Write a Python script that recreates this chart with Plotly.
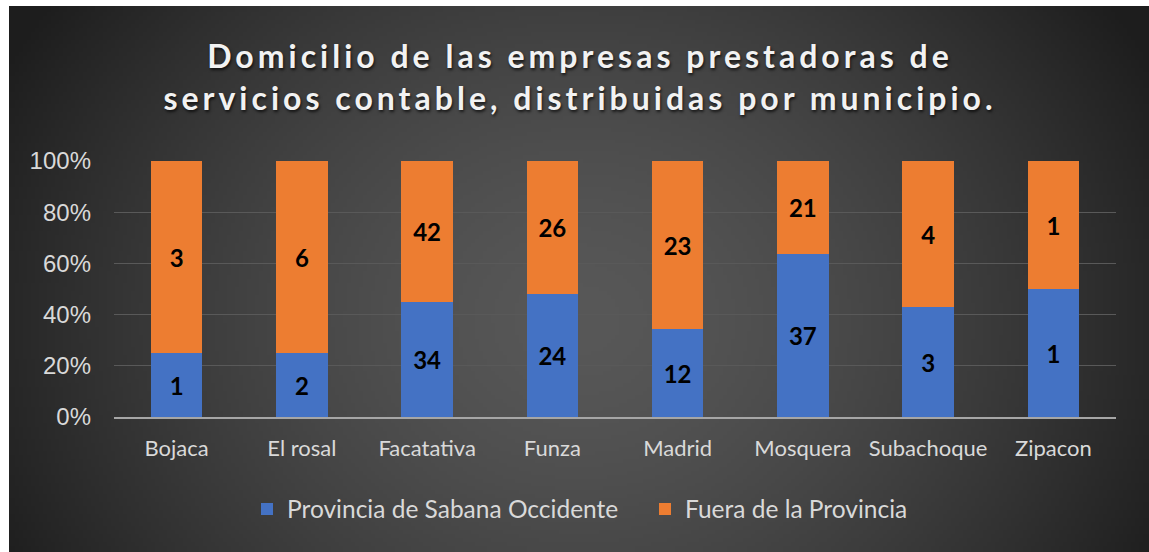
import base64, struct, zlib
import numpy as np
import plotly.graph_objects as go

# ---- data ----
municipios = ["Bojaca", "El rosal", "Facatativa", "Funza", "Madrid", "Mosquera", "Subachoque", "Zipacon"]
provincia = [1, 2, 34, 24, 12, 37, 3, 1]
fuera = [3, 6, 42, 26, 23, 21, 4, 1]
series_names = ["Provincia de Sabana Occidente", "Fuera de la Provincia"]
y_ticks = [0, 20, 40, 60, 80, 100]
y_tick_labels = ["0%", "20%", "40%", "60%", "80%", "100%"]
title_lines = ["Domicilio de las empresas prestadoras de", "servicios contable, distribuidas por municipio."]

# ---- background radial gradient (style only) ----
W, H = 1149, 552
X0, Y0 = 9, 6
gw, gh = 285, 137
xs = np.linspace(X0, W, gw)
ys = np.linspace(Y0, H, gh)
XX, YY = np.meshgrid(xs, ys)
r = np.sqrt(((XX - 580) / 600.0) ** 2 + ((YY - 320) / 520.0) ** 2)
val = np.clip(88 - 52 * r ** 1.5, 29, 90).astype(np.uint8)
img = np.stack([val, val, val], axis=-1)


def png_uri(a):
    h, w, _ = a.shape
    raw = b"".join(b"\x00" + a[i].tobytes() for i in range(h))

    def chunk(t, d):
        c = t + d
        return struct.pack(">I", len(d)) + c + struct.pack(">I", zlib.crc32(c) & 0xFFFFFFFF)

    png = b"\x89PNG\r\n\x1a\n" + chunk(b"IHDR", struct.pack(">IIBBBBB", w, h, 8, 2, 0, 0, 0)) \
        + chunk(b"IDAT", zlib.compress(raw, 9)) + chunk(b"IEND", b"")
    return "data:image/png;base64," + base64.b64encode(png).decode()


# plot area in pixels
L, R, T, B = 114, 1116, 161, 417
pw, ph = R - L, B - T

fig = go.Figure()
fig.add_trace(go.Bar(
    x=municipios, y=provincia, name=series_names[0],
    marker=dict(color="#4472C4", line=dict(width=0)),
    text=provincia, textposition="inside", insidetextanchor="middle",
    textfont=dict(family="Lato", size=24, color="black", weight="bold"),
    textangle=0,
))
fig.add_trace(go.Bar(
    x=municipios, y=fuera, name=series_names[1],
    marker=dict(color="#ED7D31", line=dict(width=0)),
    text=fuera, textposition="inside", insidetextanchor="middle",
    textfont=dict(family="Lato", size=24, color="black", weight="bold"),
    textangle=0,
))

title_html = "<br>".join('<span style="letter-spacing:4px">' + t + "</span>" for t in title_lines)

fig.update_layout(
    width=W, height=H,
    barmode="stack", barnorm="percent", bargap=0.59,
    paper_bgcolor="white", plot_bgcolor="rgba(0,0,0,0)",
    margin=dict(l=L, r=W - R, t=T, b=H - B, autoexpand=False),
    title=dict(
        text=title_html,
        x=(580 - L) / pw, xref="paper", xanchor="center",
        y=1 - 68 / H, yref="container", yanchor="middle",
        font=dict(family="Lato", size=32, color="#f2f2f2", weight="bold",
                  shadow="1px 2px 3px rgba(0,0,0,0.7)"),
    ),
    font=dict(family="Lato", color="#d9d9d9"),
    showlegend=True,
    legend=dict(
        orientation="h", x=(247 - L) / pw, xanchor="left",
        y=(B - 509) / ph, yanchor="middle",
        font=dict(family="Lato", size=24.5, color="#d9d9d9"),
        entrywidth=353, entrywidthmode="pixels",
        bgcolor="rgba(0,0,0,0)", traceorder="normal",
    ),
    xaxis=dict(
        showgrid=False, showline=True, linecolor="#a6a6a6", linewidth=2,
        tickfont=dict(family="Lato", size=22, color="#d9d9d9"),
        ticks="", ticklabelstandoff=11,
    ),
    yaxis=dict(
        range=[0, 100], tickmode="array", tickvals=y_ticks, ticktext=y_tick_labels,
        showgrid=True, gridcolor="#595959", gridwidth=1,
        zeroline=False, showline=False,
        tickfont=dict(family="Liberation Sans", size=24, color="#d9d9d9"),
        ticks="", ticklabelstandoff=22,
    ),
    images=[dict(
        source=png_uri(img), xref="paper", yref="paper",
        x=(X0 - L) / pw, y=1 + (T - Y0) / ph,
        sizex=(W - X0) / pw, sizey=(H - Y0) / ph,
        sizing="stretch", xanchor="left", yanchor="top", layer="below",
    )],
)

fig.write_html("out.html", config={"displayModeBar": False},
               post_script="document.body.style.margin='0';document.body.style.overflow='hidden';")
